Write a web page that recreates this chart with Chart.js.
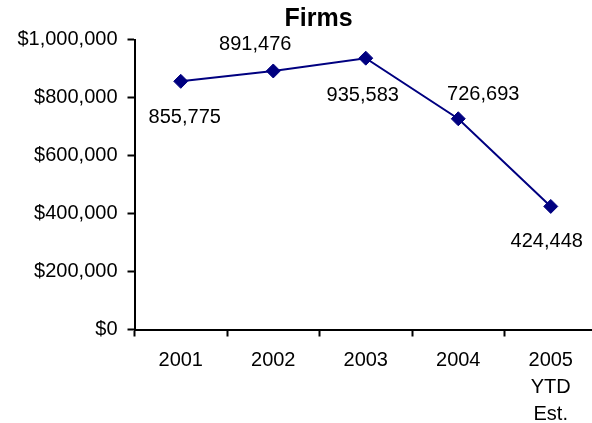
<!DOCTYPE html>
<html>
<head>
<meta charset="utf-8">
<title>Firms</title>
<script src="https://cdn.jsdelivr.net/npm/chart.js@4/dist/chart.umd.min.js"></script>
<style>
  html, body { margin: 0; padding: 0; background: #fff; overflow: hidden; }
  #firmsChart { display: block; }
</style>
</head>
<body>
<canvas id="firmsChart" width="600" height="423" style="width:600px;height:423px"></canvas>
<script>
const years = ["2001", "2002", "2003", "2004", ["2005", "YTD", "Est."]];
const firmTotals = [855775, 891476, 935583, 726693, 424448];
const yTicks = [0, 200000, 400000, 600000, 800000, 1000000];

// where each value label sits relative to its marker (dx, dy)
const labelOffsets = [[4, 36], [-18, -26], [-3, 37], [25, -24], [-4, 35]];

const FONT = "Arial, 'Liberation Sans', sans-serif";

// value labels next to the markers
const pointLabels = {
  id: "pointLabels",
  afterDatasetsDraw(chart) {
    const ctx = chart.ctx;
    const meta = chart.getDatasetMeta(0);
    ctx.save();
    ctx.font = "20px " + FONT;
    ctx.fillStyle = "#000";
    ctx.textAlign = "center";
    ctx.textBaseline = "middle";
    meta.data.forEach((pt, i) => {
      const [dx, dy] = labelOffsets[i];
      ctx.fillText(firmTotals[i].toLocaleString("en-US"), pt.x + dx, pt.y + dy);
    });
    ctx.restore();
  }
};

// chart heading, sits a bit left of the plot's centre
const heading = {
  id: "heading",
  afterDraw(chart) {
    const ctx = chart.ctx;
    ctx.save();
    ctx.font = "bold 25px " + FONT;
    ctx.fillStyle = "#000";
    ctx.textAlign = "center";
    ctx.textBaseline = "middle";
    ctx.fillText("Firms", 318.5, 19.5);
    ctx.restore();
  }
};

const ctx = document.getElementById("firmsChart").getContext("2d");

new Chart(ctx, {
  type: "line",
  data: {
    labels: years,
    datasets: [
      {
        label: "Firms",
        data: firmTotals,
        borderColor: "#000080",
        borderWidth: 2,
        backgroundColor: "#000080",
        pointStyle: "rectRot",
        pointRadius: 7,
        pointBorderWidth: 1,
        pointBorderColor: "#000080",
        pointBackgroundColor: "#000080",
        tension: 0,
        fill: false
      }
    ]
  },
  options: {
    responsive: false,
    animation: false,
    devicePixelRatio: 1,
    layout: {
      autoPadding: false,
      padding: { left: 0, right: 3, top: 39.5, bottom: 0 }
    },
    plugins: {
      legend: { display: false },
      tooltip: { enabled: false },
      title: { display: false }
    },
    scales: {
      x: {
        offset: true,
        grid: {
          offset: true,
          drawOnChartArea: false,
          drawTicks: true,
          tickLength: 7,
          tickWidth: 2,
          tickColor: "#000"
        },
        border: { display: true, color: "#000", width: 2 },
        ticks: {
          color: "#000",
          padding: 10,
          maxRotation: 0,
          autoSkip: false,
          font: { family: FONT, size: 20, lineHeight: 1.35 }
        },
        afterFit(scale) {
          scale.height = 93.5;
        }
      },
      y: {
        min: 0,
        max: 1000000,
        afterBuildTicks(scale) {
          scale.ticks = yTicks.map(v => ({ value: v }));
        },
        grid: {
          drawOnChartArea: false,
          drawTicks: true,
          tickLength: 7,
          tickWidth: 2,
          tickColor: "#000"
        },
        border: { display: true, color: "#000", width: 2 },
        ticks: {
          color: "#000",
          padding: 10,
          font: { family: FONT, size: 20 },
          callback: v => "$" + Number(v).toLocaleString("en-US")
        },
        afterFit(scale) {
          scale.width = 134.5;
        }
      }
    }
  },
  plugins: [pointLabels, heading]
});
</script>
</body>
</html>
